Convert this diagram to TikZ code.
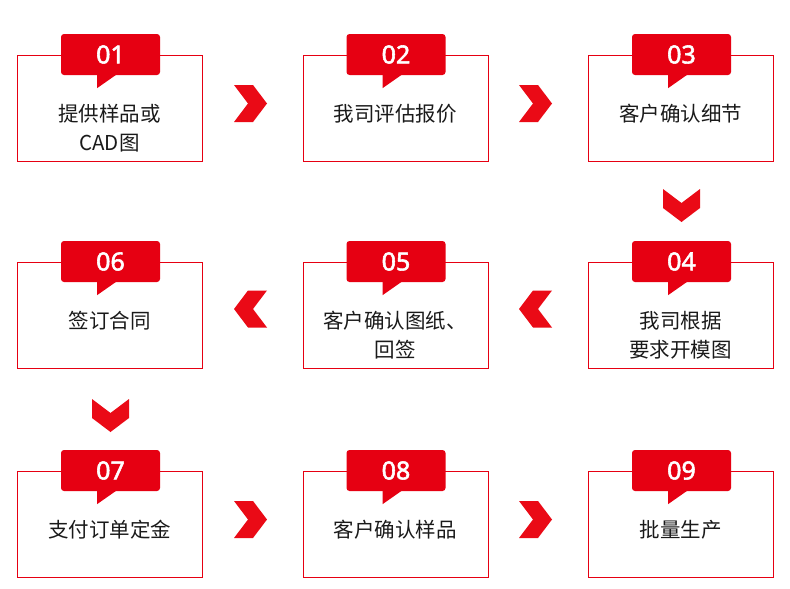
\documentclass[tikz,border=0pt]{standalone}
\usepackage{fontspec}
\setmainfont{Noto Sans CJK SC}
\newfontfamily\numfont[FakeBold=2.2]{Noto Sans}
\usepackage{xcolor}
\usepackage{tikz}
\usetikzlibrary{positioning}
\definecolor{stepred}{HTML}{E60012}
\definecolor{chevred}{HTML}{EA0A16}
\definecolor{ink}{HTML}{1A1A1A}
\tikzset{
  stepcard/.style={draw=stepred,line width=1pt,fill=white,minimum width=185pt,minimum height=106pt,anchor=north west,inner sep=0pt},
  numtab/.style={fill=stepred,rounded corners=3pt,minimum width=99pt,minimum height=41pt,inner sep=0pt,text=white,font=\numfont\fontsize{25}{25}\selectfont},
  steptext/.style={align=center,anchor=north,inner sep=0pt,text=ink,font=\fontsize{20.5}{29}\selectfont},
  chev/.pic={\fill[chevred] (-16.5,-18.5) -- (2.5,-18.5) -- (16.5,0) -- (2.5,18.5) -- (-16.5,18.5) -- (-2.5,0) -- cycle;},
}
% number tab with its little pointer
\newcommand{\steptab}[3]{%
  \node[numtab] (#1) at (#2) {#3};
  \fill[stepred] ([xshift=-13.5pt,yshift=1pt]#1.south) -- ([xshift=-13.5pt,yshift=-13pt]#1.south) -- ([xshift=6.5pt,yshift=1pt]#1.south) -- cycle;
}

\begin{document}
\begin{tikzpicture}[x=1pt,y=-1pt]
  \useasboundingbox[fill=white] (0,0) rectangle (790,589);

  % row 1
  \node[stepcard] (b1) at (17,55) {};
  \steptab{t1}{110.5,54.5}{01}
  \node[steptext] (l1) at (109.5,104) {提供样品或\\CAD图};

  \node[stepcard] (b2) at (302.5,55) {};
  \steptab{t2}{396,54.5}{02}
  \node[steptext] (l2) at (395,104) {我司评估报价};

  \node[stepcard] (b3) at (588,55) {};
  \steptab{t3}{681.5,54.5}{03}
  \node[steptext] (l3) at (680.5,104) {客户确认细节};

  % row 2
  \node[stepcard] (b4) at (588,262) {};
  \steptab{t4}{681.5,261.5}{04}
  \node[steptext] (l4) at (680.5,311) {我司根据\\要求开模图};

  \node[stepcard] (b5) at (302.5,262) {};
  \steptab{t5}{396,261.5}{05}
  \node[steptext] (l5) at (395,311) {客户确认图纸、\\回签};

  \node[stepcard] (b6) at (17,262) {};
  \steptab{t6}{110.5,261.5}{06}
  \node[steptext] (l6) at (109.5,311) {签订合同};

  % row 3
  \node[stepcard] (b7) at (17,471) {};
  \steptab{t7}{110.5,470.5}{07}
  \node[steptext] (l7) at (109.5,520) {支付订单定金};

  \node[stepcard] (b8) at (302.5,471) {};
  \steptab{t8}{396,470.5}{08}
  \node[steptext] (l8) at (395,520) {客户确认样品};

  \node[stepcard] (b9) at (588,471) {};
  \steptab{t9}{681.5,470.5}{09}
  \node[steptext] (l9) at (680.5,520) {批量生产};

  % chevrons between the steps
  \pic at (250.5,103.5) {chev};
  \pic at (535.5,103.5) {chev};
  \pic[rotate=-90] at (681.5,205.5) {chev};
  \pic[rotate=180] at (535.5,309) {chev};
  \pic[rotate=180] at (250.5,309) {chev};
  \pic[rotate=-90] at (110.5,415.5) {chev};
  \pic at (250.5,519.5) {chev};
  \pic at (535.5,519.5) {chev};
\end{tikzpicture}
\end{document}
